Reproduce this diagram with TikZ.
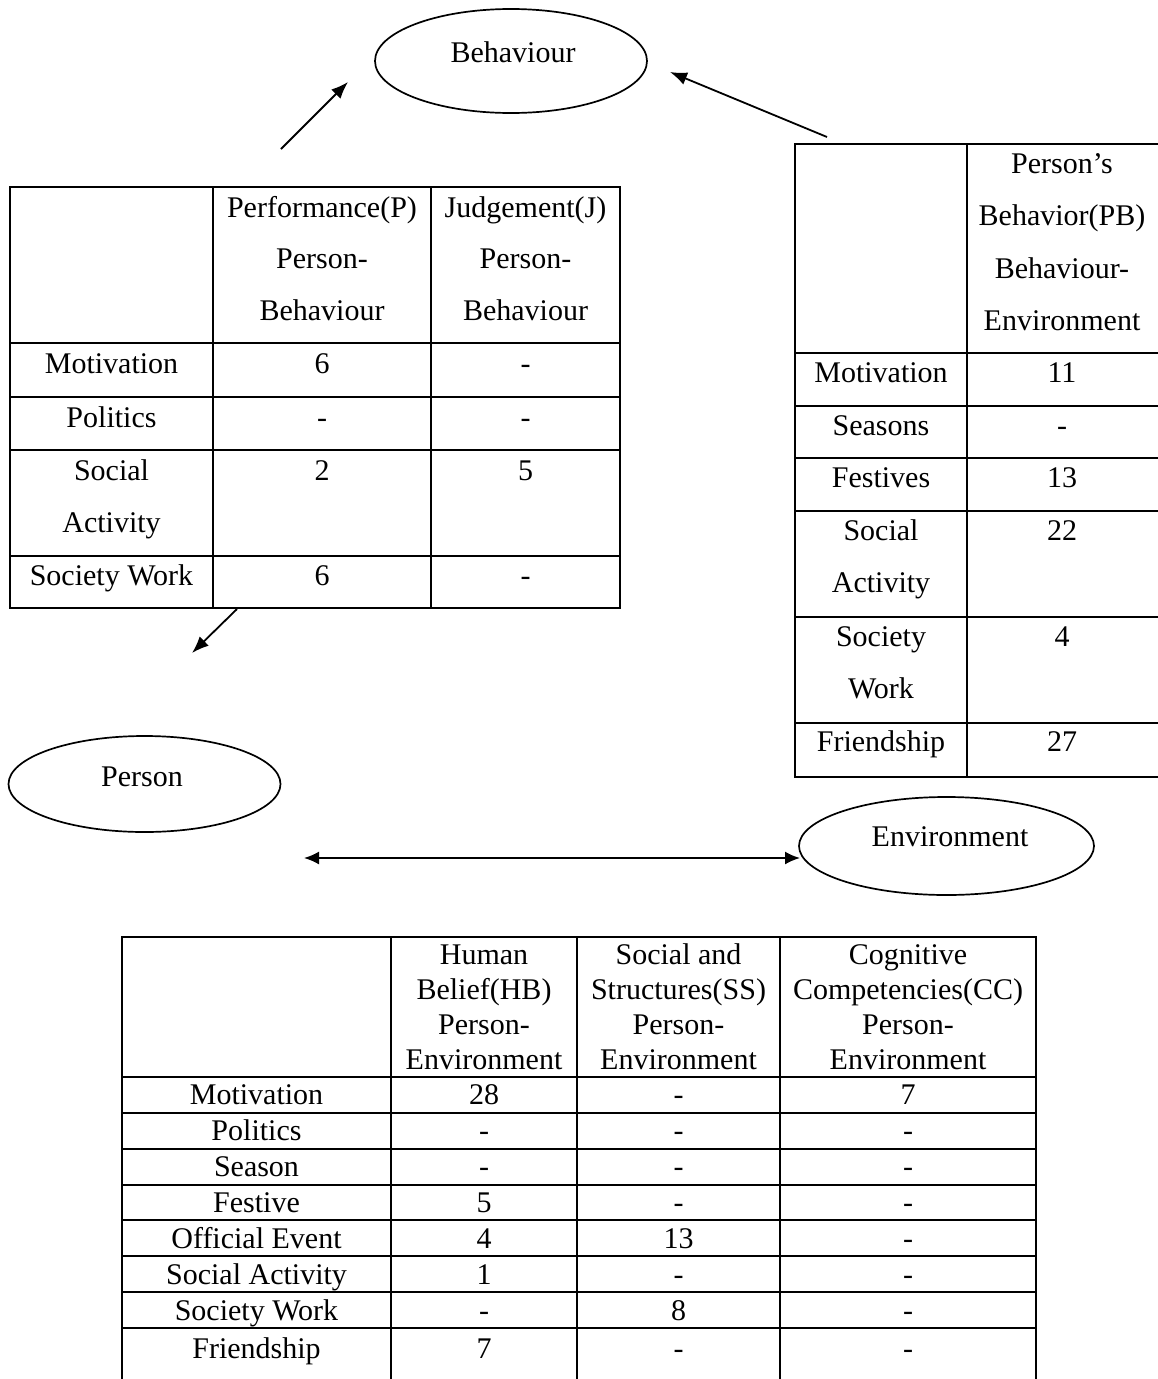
\documentclass[tikz,border=0pt]{standalone}
\usepackage{fontspec}
\setmainfont{Liberation Serif}
\usetikzlibrary{shapes.geometric,arrows.meta}
\begin{document}
\begin{tikzpicture}[x=1pt,y=-1pt,
  txt/.style={font=\fontsize{30}{35}\selectfont, inner sep=0pt, anchor=base},
  rule/.style={line width=2pt},
  bubble/.style={draw, ellipse, line width=1.7pt, inner sep=0pt},
  link/.style={line width=1.8pt, -{Latex[length=17pt,width=13pt]}},
  duallink/.style={line width=1.8pt, {Latex[length=15pt,width=13pt]}-{Latex[length=15pt,width=13pt]}},
]
\useasboundingbox (0,0) rectangle (1157,1379);

% ---------- the three ovals ----------
\node[bubble, minimum width=272pt, minimum height=104pt] (beh) at (511,61) {};
\node[txt] (behtxt) at (513,62) {Behaviour};
\node[bubble, minimum width=272pt, minimum height=96pt] (per) at (144.5,784) {};
\node[txt] (pertxt) at (142,786) {Person};
\node[bubble, minimum width=295pt, minimum height=98pt] (env) at (946.5,846) {};
\node[txt] (envtxt) at (950,846) {Environment};

% ---------- arrows ----------
\coordinate (a1s) at (281,149);  \coordinate (a1e) at (348,82);
\coordinate (a2s) at (827,137);  \coordinate (a2e) at (670,72);
\coordinate (a3s) at (237,609);  \coordinate (a3e) at (192,653);
\coordinate (a4s) at (304,858);  \coordinate (a4e) at (800,858);
\draw[link] (a1s) -- (a1e);
\draw[link] (a2s) -- (a2e);
\draw[link] (a3s) -- (a3e);
\draw[duallink] (a4s) -- (a4e);

% ---------- table: Person-Behaviour ----------
\draw[rule] (10,187) rectangle (620,608);
\foreach \y in {343,397,450,556} \draw[rule] (10,\y) -- (620,\y);
\foreach \x in {213,431} \draw[rule] (\x,187) -- (\x,608);
\node[txt] (pa1) at (322,217) {Performance(P)};
\node[txt] (pa2) at (322,268.5) {Person-};
\node[txt] (pa3) at (322,320) {Behaviour};
\node[txt] (pb1) at (525.5,217) {Judgement(J)};
\node[txt] (pb2) at (525.5,268.5) {Person-};
\node[txt] (pb3) at (525.5,320) {Behaviour};
\node[txt] (pr1) at (111.5,373) {Motivation};
\node[txt] (pr1a) at (322,373) {6};
\node[txt] (pr1b) at (525.5,373) {-};
\node[txt] (pr2) at (111.5,427) {Politics};
\node[txt] (pr2a) at (322,427) {-};
\node[txt] (pr2b) at (525.5,427) {-};
\node[txt] (pr3) at (111.5,480) {Social};
\node[txt] (pr3c) at (111.5,532) {Activity};
\node[txt] (pr3a) at (322,480) {2};
\node[txt] (pr3b) at (525.5,480) {5};
\node[txt] (pr4) at (111.5,585) {Society Work};
\node[txt] (pr4a) at (322,585) {6};
\node[txt] (pr4b) at (525.5,585) {-};

% ---------- table: Behaviour-Environment ----------
\draw[rule] (1160,144) -- (795,144) -- (795,777) -- (1160,777);
\draw[rule] (967,144) -- (967,777);
\foreach \y in {353,406,458,511,617,723} \draw[rule] (795,\y) -- (1160,\y);
\node[txt] (q1) at (1062,173) {Person’s};
\node[txt] (q2) at (1062,225.5) {Behavior(PB)};
\node[txt] (q3) at (1062,278) {Behaviour-};
\node[txt] (q4) at (1062,330.5) {Environment};
\node[txt] (qr1) at (881,382) {Motivation};
\node[txt] (qr1a) at (1062,382) {11};
\node[txt] (qr2) at (881,435) {Seasons};
\node[txt] (qr2a) at (1062,435) {-};
\node[txt] (qr3) at (881,487) {Festives};
\node[txt] (qr3a) at (1062,487) {13};
\node[txt] (qr4) at (881,540) {Social};
\node[txt] (qr4c) at (881,592) {Activity};
\node[txt] (qr4a) at (1062,540) {22};
\node[txt] (qr5) at (881,646) {Society};
\node[txt] (qr5c) at (881,698) {Work};
\node[txt] (qr5a) at (1062,646) {4};
\node[txt] (qr6) at (881,751) {Friendship};
\node[txt] (qr6a) at (1062,751) {27};

% ---------- table: Person-Environment ----------
\draw[rule] (122,1385) -- (122,937) -- (1036,937) -- (1036,1385);
\foreach \x in {391,577,780} \draw[rule] (\x,937) -- (\x,1385);
\foreach \y in {1077,1112.9,1148.7,1184.6,1220.4,1256.3,1292.2,1328} \draw[rule] (122,\y) -- (1036,\y);
\node[txt] (h1) at (484,964.5) {Human};
\node[txt] (h2) at (484,999.5) {Belief(HB)};
\node[txt] (h3) at (484,1034.5) {Person-};
\node[txt] (h4) at (484,1069.5) {Environment};
\node[txt] (s1) at (678.5,964.5) {Social and};
\node[txt] (s2) at (678.5,999.5) {Structures(SS)};
\node[txt] (s3) at (678.5,1034.5) {Person-};
\node[txt] (s4) at (678.5,1069.5) {Environment};
\node[txt] (c1) at (908,964.5) {Cognitive};
\node[txt] (c2) at (908,999.5) {Competencies(CC)};
\node[txt] (c3) at (908,1034.5) {Person-};
\node[txt] (c4) at (908,1069.5) {Environment};
\foreach \lab/\hb/\ss/\cc/\yb [count=\i] in {
    Motivation/28/-/7/1104.5,
    Politics/-/-/-/1140.5,
    Season/-/-/-/1176.5,
    Festive/5/-/-/1212,
    Official Event/4/13/-/1248,
    Social Activity/1/-/-/1284,
    Society Work/-/8/-/1320,
    Friendship/7/-/-/1358}{
  \node[txt] (er\i) at (256.5,\yb) {\lab};
  \node[txt] (eh\i) at (484,\yb) {\hb};
  \node[txt] (es\i) at (678.5,\yb) {\ss};
  \node[txt] (ec\i) at (908,\yb) {\cc};
}
\end{tikzpicture}
\end{document}
